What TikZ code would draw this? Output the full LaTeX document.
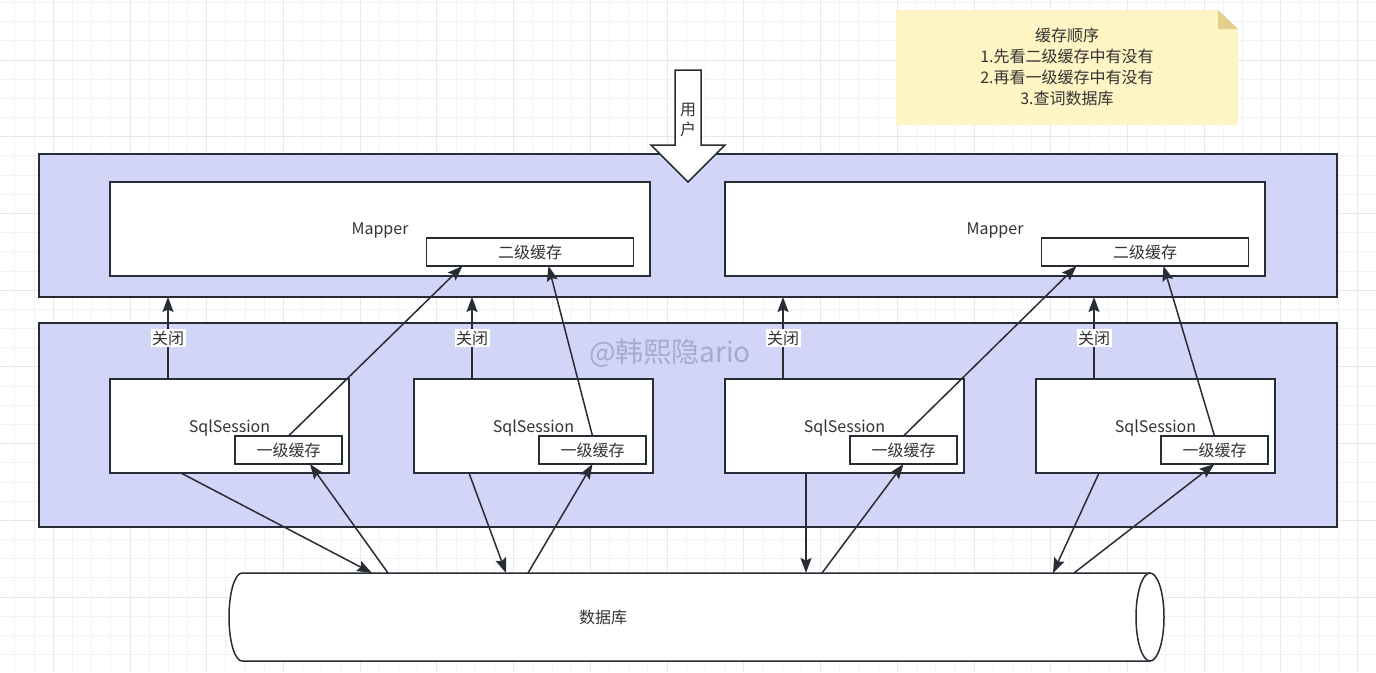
\documentclass[tikz,border=0pt]{standalone}
\usepackage{fontspec}
\setmainfont{Noto Sans CJK SC}
\usetikzlibrary{arrows.meta}
\definecolor{panel}{RGB}{210,213,247}
\definecolor{note}{RGB}{255,244,195}
\definecolor{fold}{RGB}{228,208,140}
\definecolor{ink}{RGB}{40,44,52}
\definecolor{txt}{RGB}{51,51,51}
\definecolor{markgray}{RGB}{168,170,204}
\definecolor{gridminor}{RGB}{243,243,243}
\definecolor{gridmajor}{RGB}{232,232,232}

\begin{document}
\begin{tikzpicture}[x=1pt, y=-1pt, line width=1.5pt,
  every node/.style={text=txt, font=\fontsize{16}{19}\selectfont, outer sep=0pt},
  panelbox/.style={draw=ink, fill=panel, minimum width=1298pt, inner sep=0pt},
  box/.style={draw=ink, fill=white, inner sep=0pt},
  mapperbox/.style={box, minimum width=540pt, minimum height=94pt, text height=11pt, text depth=0pt},
  sessbox/.style={box, minimum width=239pt, minimum height=94pt, text height=13pt, text depth=0pt},
  cachebig/.style={box, minimum width=207pt, minimum height=28pt},
  cachesmall/.style={box, minimum width=107pt, minimum height=28pt},
  link/.style={draw=ink, -{Stealth[length=15pt,width=11pt,inset=2.5pt]}}]
\useasboundingbox (0,0) rectangle (1376,672);
\fill[white] (0,0) rectangle (1376,672);
\foreach \k in {-2,...,69}
  \draw[gridminor, line width=0.9pt] ({53.3+19.18*\k},0) -- ({53.3+19.18*\k},672);
\foreach \k in {-3,...,32}
  \draw[gridminor, line width=0.9pt] (0,{60+19.18*\k}) -- (1376,{60+19.18*\k});
\foreach \k in {0,...,17}
  \draw[gridmajor, line width=0.9pt] ({53.3+76.72*\k},0) -- ({53.3+76.72*\k},672);
\foreach \k in {0,...,8}
  \draw[gridmajor, line width=0.9pt] (0,{60+76.72*\k}) -- (1376,{60+76.72*\k});

\fill[note] (896,10) -- (1218,10) -- (1238,29) -- (1238,125) -- (896,125) -- cycle;
\fill[fold] (1218,10) -- (1218,29) -- (1238,29) -- cycle;
\node[align=center, font=\fontsize{16}{21}\selectfont] (order) at (1067,67)
  {缓存顺序\\1.先看二级缓存中有没有\\2.再看一级缓存中有没有\\3.查词数据库};

\node[panelbox, minimum height=143pt] (top) at (688,225.5) {};
\node[panelbox, minimum height=204pt] (bottom) at (688,425) {};
\draw[ink, fill=white] (675,70) -- (701,70) -- (701,145) -- (725,145) -- (688,182)
  -- (651,145) -- (675,145) -- cycle;
\node[align=center, font=\fontsize{16}{20}\selectfont] (user) at (688,120) {用\\户};
\node[text=markgray, font=\fontsize{28}{32}\selectfont] (mark) at (670,353) {@韩熙隐ario};

\node[mapperbox] (m1) at (380,229) {Mapper};
\node[mapperbox] (m2) at (995,229) {Mapper};
\node[cachebig] (mc1) at (530,252) {二级缓存};
\node[cachebig] (mc2) at (1145,252) {二级缓存};
\foreach \n/\x in {1/110, 2/414, 3/725, 4/1036} {
  \node[sessbox, anchor=north west] (s\n) at (\x,379) {SqlSession};
  \node[cachesmall, anchor=north west] (c\n) at (\x+125,436) {一级缓存};
  \coordinate (k\n) at ([xshift=58pt]s\n.north west);
  \draw[link] (k\n) -- (k\n |- top.south)
    node[midway, fill=white, inner sep=1.5pt] {关闭};
}

\node[minimum width=908pt, minimum height=88pt, inner sep=0pt] (db) at (696,617) {};
\draw[ink, fill=white] (db.north east) -- (db.north west)
  arc[start angle=90, end angle=270, x radius=13pt, y radius=44pt] -- (db.south east);
\draw[ink, fill=white] (db.east) ellipse[x radius=14pt, y radius=44pt];
\node (dblabel) at (603,617) {数据库};

\foreach \n/\m/\d in {1/1/36, 2/1/122, 3/2/35, 4/2/122}
  \draw[link] (c\n.north) -- ([xshift=\d pt]mc\m.south west);
\foreach \n/\a/\b in {1/71/130, 2/55/264, 3/81/564, 4/63/811}
  \draw[link] ([xshift=\a pt]s\n.south west) -- ([xshift=\b pt]db.north west);
\foreach \n/\b/\c in {1/146/75, 2/286/53.5, 3/580/53.5, 4/832/53.5}
  \draw[link] ([xshift=\b pt]db.north west) -- ([xshift=\c pt]c\n.south west);
\end{tikzpicture}
\end{document}
